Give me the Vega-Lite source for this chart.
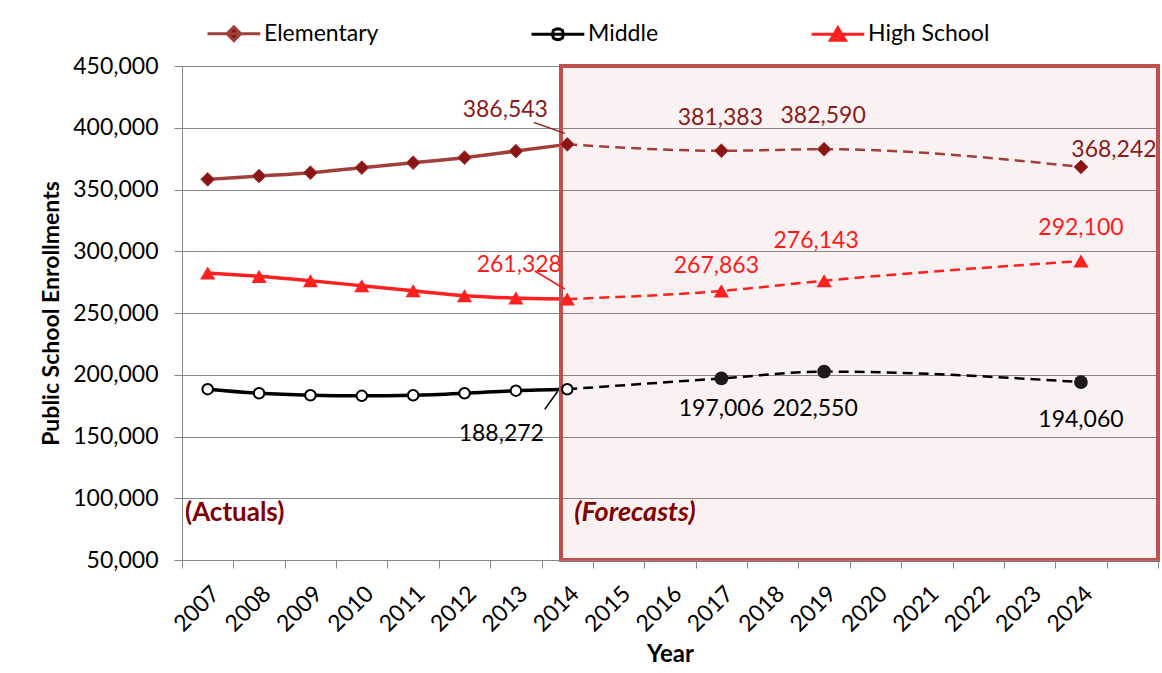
{
  "$schema": "https://vega.github.io/schema/vega-lite/v6.json",
  "width": 976,
  "height": 494,
  "autosize": {"type": "none"},
  "padding": {"left": 182, "top": 66, "right": 4, "bottom": 113},
  "background": "white",
  "config": {
    "font": "Lato",
    "view": {"stroke": null},
    "legend": {"symbolOpacity": 1}
  },
  "datasets": {
    "enroll": [
      {"series": "Elementary", "year": "2007", "value": 358200},
      {"series": "Elementary", "year": "2008", "value": 360900},
      {"series": "Elementary", "year": "2009", "value": 363600},
      {"series": "Elementary", "year": "2010", "value": 367700},
      {"series": "Elementary", "year": "2011", "value": 371700},
      {"series": "Elementary", "year": "2012", "value": 375800},
      {"series": "Elementary", "year": "2013", "value": 381100},
      {"series": "Elementary", "year": "2014", "value": 386543},
      {"series": "Elementary", "year": "2017", "value": 381383},
      {"series": "Elementary", "year": "2019", "value": 382590},
      {"series": "Elementary", "year": "2024", "value": 368242},
      {"series": "Middle", "year": "2007", "value": 188300},
      {"series": "Middle", "year": "2008", "value": 185000},
      {"series": "Middle", "year": "2009", "value": 183400},
      {"series": "Middle", "year": "2010", "value": 182900},
      {"series": "Middle", "year": "2011", "value": 183400},
      {"series": "Middle", "year": "2012", "value": 185000},
      {"series": "Middle", "year": "2013", "value": 187100},
      {"series": "Middle", "year": "2014", "value": 188272},
      {"series": "Middle", "year": "2017", "value": 197006},
      {"series": "Middle", "year": "2019", "value": 202550},
      {"series": "Middle", "year": "2024", "value": 194060},
      {"series": "High School", "year": "2007", "value": 282400},
      {"series": "High School", "year": "2008", "value": 279700},
      {"series": "High School", "year": "2009", "value": 276100},
      {"series": "High School", "year": "2010", "value": 272100},
      {"series": "High School", "year": "2011", "value": 268000},
      {"series": "High School", "year": "2012", "value": 264000},
      {"series": "High School", "year": "2013", "value": 262100},
      {"series": "High School", "year": "2014", "value": 261328},
      {"series": "High School", "year": "2017", "value": 267863},
      {"series": "High School", "year": "2019", "value": 276143},
      {"series": "High School", "year": "2024", "value": 292100}
    ],
    "notes": [
      {"label": "(Actuals)", "year": "2007"},
      {"label": "(Forecasts)", "year": "2014"}
    ]
  },
  "encoding": {
    "x": {
      "field": "year",
      "type": "ordinal",
      "bandPosition": 0.5,
      "scale": {
        "type": "band",
        "domain": ["2007","2008","2009","2010","2011","2012","2013","2014","2015","2016","2017","2018","2019","2020","2021","2022","2023","2024","2025"],
        "paddingInner": 0,
        "paddingOuter": 0
      },
      "axis": {
        "title": "Year",
        "labelAngle": -45,
        "labelAlign": "right",
        "labelBaseline": "top",
        "labelFontSize": 23,
        "labelPadding": 14,
        "labelColor": "#000000",
        "labelOverlap": false,
        "labelFlush": false,
        "labelExpr": "datum.value == '2025' ? '' : datum.value",
        "tickBand": "extent",
        "tickSize": 8,
        "tickColor": "#868686",
        "domainColor": "#868686",
        "grid": false,
        "titleFontSize": 24,
        "titleFontWeight": "bold",
        "titleColor": "#000000",
        "titlePadding": 7
      }
    }
  },
  "layer": [
    {
      "data": {"name": "notes"},
      "transform": [{"filter": "datum.label == '(Forecasts)'"}],
      "mark": {"type": "rect", "color": "#C0504D", "opacity": 0.075},
      "encoding": {
        "x": {"field": "year", "type": "ordinal", "bandPosition": 0.378},
        "x2": {"value": "width"},
        "y": {
          "datum": 450000,
          "type": "quantitative",
          "scale": {"domain": [50000, 450000], "nice": false, "zero": false},
          "axis": {
            "title": "Public School Enrollments",
            "values": [50000, 100000, 150000, 200000, 250000, 300000, 350000, 400000, 450000],
            "format": ",.0f",
            "grid": true,
            "gridColor": "#868686",
            "gridWidth": 1,
            "tickSize": 8,
            "tickColor": "#868686",
            "domainColor": "#868686",
            "labelFontSize": 23,
            "labelPadding": 16,
            "labelColor": "#000000",
            "labelFlush": false,
            "titleFontSize": 23,
            "titleFontWeight": "bold",
            "titleColor": "#000000",
            "titlePadding": 9
          }
        },
        "y2": {"datum": 50000}
      }
    },
    {
      "data": {"name": "enroll"},
      "transform": [{"filter": "datum.series == 'Elementary' && toNumber(datum.year) <= 2014"}],
      "mark": {"type": "line", "interpolate": "monotone", "strokeWidth": 3.5, "color": "#A0403D"},
      "encoding": {"y": {"field": "value", "type": "quantitative"}}
    },
    {
      "data": {"name": "enroll"},
      "transform": [{"filter": "datum.series == 'Middle' && toNumber(datum.year) <= 2014"}],
      "mark": {"type": "line", "interpolate": "monotone", "strokeWidth": 3.5, "color": "#000000"},
      "encoding": {"y": {"field": "value", "type": "quantitative"}}
    },
    {
      "data": {"name": "enroll"},
      "transform": [{"filter": "datum.series == 'High School' && toNumber(datum.year) <= 2014"}],
      "mark": {"type": "line", "interpolate": "monotone", "strokeWidth": 3.5, "color": "#FF2020"},
      "encoding": {"y": {"field": "value", "type": "quantitative"}}
    },
    {
      "data": {"name": "enroll"},
      "transform": [{"filter": "datum.series == 'Elementary' && toNumber(datum.year) >= 2014"}],
      "mark": {"type": "line", "interpolate": "monotone", "strokeWidth": 2.5, "strokeDash": [10, 6], "color": "#A0403D"},
      "encoding": {"y": {"field": "value", "type": "quantitative"}}
    },
    {
      "data": {"name": "enroll"},
      "transform": [{"filter": "datum.series == 'Middle' && toNumber(datum.year) >= 2014"}],
      "mark": {"type": "line", "interpolate": "monotone", "strokeWidth": 2.5, "strokeDash": [10, 6], "color": "#000000"},
      "encoding": {"y": {"field": "value", "type": "quantitative"}}
    },
    {
      "data": {"name": "enroll"},
      "transform": [{"filter": "datum.series == 'High School' && toNumber(datum.year) >= 2014"}],
      "mark": {"type": "line", "interpolate": "monotone", "strokeWidth": 2.5, "strokeDash": [10, 6], "color": "#FF2020"},
      "encoding": {"y": {"field": "value", "type": "quantitative"}}
    },
    {
      "data": {"name": "notes"},
      "transform": [{"filter": "datum.label == '(Forecasts)'"}],
      "mark": {"type": "rect", "filled": false, "color": "#C0504D", "strokeWidth": 4, "opacity": 1},
      "encoding": {
        "x": {"field": "year", "type": "ordinal", "bandPosition": 0.378},
        "x2": {"value": "width"},
        "y": {"datum": 450000, "type": "quantitative"},
        "y2": {"datum": 50000}
      }
    },
    {
      "data": {"name": "enroll"},
      "transform": [{"filter": "datum.series == 'Elementary' && datum.year == '2014'"}],
      "mark": {"type": "rule", "color": "#8B1A1A", "strokeWidth": 1.5, "xOffset": -2.5, "yOffset": -11, "x2Offset": -33.5, "y2Offset": -22},
      "encoding": {"y": {"field": "value", "type": "quantitative"}, "x2": {"field": "year"}, "y2": {"field": "value"}}
    },
    {
      "data": {"name": "enroll"},
      "transform": [{"filter": "datum.series == 'High School' && datum.year == '2014'"}],
      "mark": {"type": "rule", "color": "#FF1A1A", "strokeWidth": 1.5, "xOffset": -2.5, "yOffset": -10, "x2Offset": -32.5, "y2Offset": -28},
      "encoding": {"y": {"field": "value", "type": "quantitative"}, "x2": {"field": "year"}, "y2": {"field": "value"}}
    },
    {
      "data": {"name": "enroll"},
      "transform": [{"filter": "datum.series == 'Middle' && datum.year == '2014'"}],
      "mark": {"type": "rule", "color": "#000000", "strokeWidth": 1.5, "xOffset": -9.5, "yOffset": 2, "x2Offset": -22.5, "y2Offset": 20},
      "encoding": {"y": {"field": "value", "type": "quantitative"}, "x2": {"field": "year"}, "y2": {"field": "value"}}
    },
    {
      "data": {"name": "enroll"},
      "transform": [{"filter": "datum.series == 'Elementary'"}],
      "mark": {"type": "point", "shape": "diamond", "filled": true, "fill": "#8B1515", "stroke": "#A0403D", "strokeWidth": 1, "size": 190, "opacity": 1},
      "encoding": {"y": {"field": "value", "type": "quantitative"}}
    },
    {
      "data": {"name": "enroll"},
      "transform": [{"filter": "datum.series == 'High School'"}],
      "mark": {"type": "point", "shape": "triangle-up", "filled": true, "fill": "#FF2020", "strokeWidth": 0, "size": 230, "opacity": 1},
      "encoding": {"y": {"field": "value", "type": "quantitative"}}
    },
    {
      "data": {"name": "enroll"},
      "transform": [{"filter": "datum.series == 'Middle' && toNumber(datum.year) <= 2014"}],
      "mark": {"type": "point", "shape": "circle", "filled": false, "fill": "#FFFFFF", "stroke": "#000000", "strokeWidth": 2, "size": 110, "opacity": 1},
      "encoding": {"y": {"field": "value", "type": "quantitative"}}
    },
    {
      "data": {"name": "enroll"},
      "transform": [{"filter": "datum.series == 'Middle' && toNumber(datum.year) > 2014"}],
      "mark": {"type": "point", "shape": "circle", "filled": true, "fill": "#1C1A1A", "strokeWidth": 0, "size": 190, "opacity": 1},
      "encoding": {"y": {"field": "value", "type": "quantitative"}}
    },
    {
      "data": {"name": "enroll"},
      "transform": [{"filter": "datum.series == 'Elementary' && datum.year == '2014'"}],
      "mark": {"type": "text", "fontSize": 23, "dx": -62, "dy": -34, "color": "#8B1A1A"},
      "encoding": {"y": {"field": "value", "type": "quantitative"}, "text": {"field": "value", "type": "quantitative", "format": ",.0f"}}
    },
    {
      "data": {"name": "enroll"},
      "transform": [{"filter": "datum.series == 'Elementary' && (datum.year == '2017' || datum.year == '2019')"}],
      "mark": {"type": "text", "fontSize": 23, "dx": -1, "dy": -33, "color": "#8B1A1A"},
      "encoding": {"y": {"field": "value", "type": "quantitative"}, "text": {"field": "value", "type": "quantitative", "format": ",.0f"}}
    },
    {
      "data": {"name": "enroll"},
      "transform": [{"filter": "datum.series == 'Elementary' && datum.year == '2024'"}],
      "mark": {"type": "text", "fontSize": 23, "dx": 33, "dy": -17, "color": "#8B1A1A"},
      "encoding": {"y": {"field": "value", "type": "quantitative"}, "text": {"field": "value", "type": "quantitative", "format": ",.0f"}}
    },
    {
      "data": {"name": "enroll"},
      "transform": [{"filter": "datum.series == 'High School' && datum.year == '2014'"}],
      "mark": {"type": "text", "fontSize": 23, "dx": -48, "dy": -34, "color": "#FF1A1A"},
      "encoding": {"y": {"field": "value", "type": "quantitative"}, "text": {"field": "value", "type": "quantitative", "format": ",.0f"}}
    },
    {
      "data": {"name": "enroll"},
      "transform": [{"filter": "datum.series == 'High School' && datum.year == '2017'"}],
      "mark": {"type": "text", "fontSize": 23, "dx": -5, "dy": -25, "color": "#FF1A1A"},
      "encoding": {"y": {"field": "value", "type": "quantitative"}, "text": {"field": "value", "type": "quantitative", "format": ",.0f"}}
    },
    {
      "data": {"name": "enroll"},
      "transform": [{"filter": "datum.series == 'High School' && datum.year == '2019'"}],
      "mark": {"type": "text", "fontSize": 23, "dx": -8, "dy": -40, "color": "#FF1A1A"},
      "encoding": {"y": {"field": "value", "type": "quantitative"}, "text": {"field": "value", "type": "quantitative", "format": ",.0f"}}
    },
    {
      "data": {"name": "enroll"},
      "transform": [{"filter": "datum.series == 'High School' && datum.year == '2024'"}],
      "mark": {"type": "text", "fontSize": 23, "dx": 0, "dy": -33, "color": "#FF1A1A"},
      "encoding": {"y": {"field": "value", "type": "quantitative"}, "text": {"field": "value", "type": "quantitative", "format": ",.0f"}}
    },
    {
      "data": {"name": "enroll"},
      "transform": [{"filter": "datum.series == 'Middle' && datum.year == '2014'"}],
      "mark": {"type": "text", "fontSize": 23, "dx": -66, "dy": 45, "color": "#000000"},
      "encoding": {"y": {"field": "value", "type": "quantitative"}, "text": {"field": "value", "type": "quantitative", "format": ",.0f"}}
    },
    {
      "data": {"name": "enroll"},
      "transform": [{"filter": "datum.series == 'Middle' && datum.year == '2017'"}],
      "mark": {"type": "text", "fontSize": 23, "dx": 0, "dy": 31, "color": "#000000"},
      "encoding": {"y": {"field": "value", "type": "quantitative"}, "text": {"field": "value", "type": "quantitative", "format": ",.0f"}}
    },
    {
      "data": {"name": "enroll"},
      "transform": [{"filter": "datum.series == 'Middle' && datum.year == '2019'"}],
      "mark": {"type": "text", "fontSize": 23, "dx": -9, "dy": 37, "color": "#000000"},
      "encoding": {"y": {"field": "value", "type": "quantitative"}, "text": {"field": "value", "type": "quantitative", "format": ",.0f"}}
    },
    {
      "data": {"name": "enroll"},
      "transform": [{"filter": "datum.series == 'Middle' && datum.year == '2024'"}],
      "mark": {"type": "text", "fontSize": 23, "dx": 0, "dy": 38, "color": "#000000"},
      "encoding": {"y": {"field": "value", "type": "quantitative"}, "text": {"field": "value", "type": "quantitative", "format": ",.0f"}}
    },
    {
      "data": {"name": "notes"},
      "transform": [{"filter": "datum.label == '(Actuals)'"}],
      "mark": {"type": "text", "fontSize": 26, "fontWeight": "bold", "align": "left", "dx": 3, "color": "#800000"},
      "encoding": {
        "x": {"field": "year", "type": "ordinal", "bandPosition": 0},
        "y": {"datum": 88000, "type": "quantitative"},
        "text": {"field": "label", "type": "nominal"}
      }
    },
    {
      "data": {"name": "notes"},
      "transform": [{"filter": "datum.label == '(Forecasts)'"}],
      "mark": {"type": "text", "fontSize": 27, "fontWeight": "bold", "fontStyle": "italic", "align": "left", "dx": 7, "color": "#800000"},
      "encoding": {
        "x": {"field": "year", "type": "ordinal", "bandPosition": 0.5},
        "y": {"datum": 88000, "type": "quantitative"},
        "text": {"field": "label", "type": "nominal"}
      }
    },
    {
      "data": {"name": "enroll"},
      "transform": [{"filter": "false"}],
      "mark": {"type": "point", "filled": true, "opacity": 1, "strokeWidth": 3, "size": 144},
      "encoding": {
        "y": {"field": "value", "type": "quantitative"},
        "fill": {
          "field": "series", "type": "nominal",
          "scale": {"domain": ["Elementary", "Middle", "High School"], "range": ["#8B1515", "#FFFFFF", "#FF2020"]},
          "legend": {"orient": "none", "legendX": 20, "legendY": -44, "direction": "horizontal", "title": null, "padding": 0, "columnPadding": 146, "labelOffset": 39, "symbolSize": 144, "symbolStrokeWidth": 3, "labelFontSize": 23, "labelColor": "#000000", "labelFont": "Lato"}
        },
        "stroke": {
          "field": "series", "type": "nominal",
          "scale": {"domain": ["Elementary", "Middle", "High School"], "range": ["#A0403D", "#000000", "#FF2020"]},
          "legend": {"orient": "none", "legendX": 20, "legendY": -44, "direction": "horizontal", "title": null, "padding": 0, "columnPadding": 146, "labelOffset": 39, "symbolSize": 144, "symbolStrokeWidth": 3, "labelFontSize": 23, "labelColor": "#000000", "labelFont": "Lato"}
        },
        "shape": {
          "field": "series", "type": "nominal",
          "scale": {
            "domain": ["Elementary", "Middle", "High School"],
            "range": [
              "M-1,0L7.8,0M3.4,-1.15L4.55,0L3.4,1.15L2.25,0Z",
              "M-1,0L7.8,0M2.5,0L2.64,-0.64L3.04,-0.84L3.4,-0.9L3.76,-0.84L4.16,-0.64L4.3,0L4.16,0.64L3.76,0.84L3.4,0.9L3.04,0.84L2.64,0.64Z",
              "M-1,0L7.8,0M3.4,-1.1L4.65,1L2.15,1Z"
            ]
          },
          "legend": {"orient": "none", "legendX": 20, "legendY": -44, "direction": "horizontal", "title": null, "padding": 0, "columnPadding": 146, "labelOffset": 39, "symbolSize": 144, "symbolStrokeWidth": 3, "labelFontSize": 23, "labelColor": "#000000", "labelFont": "Lato"}
        }
      }
    }
  ]
}
